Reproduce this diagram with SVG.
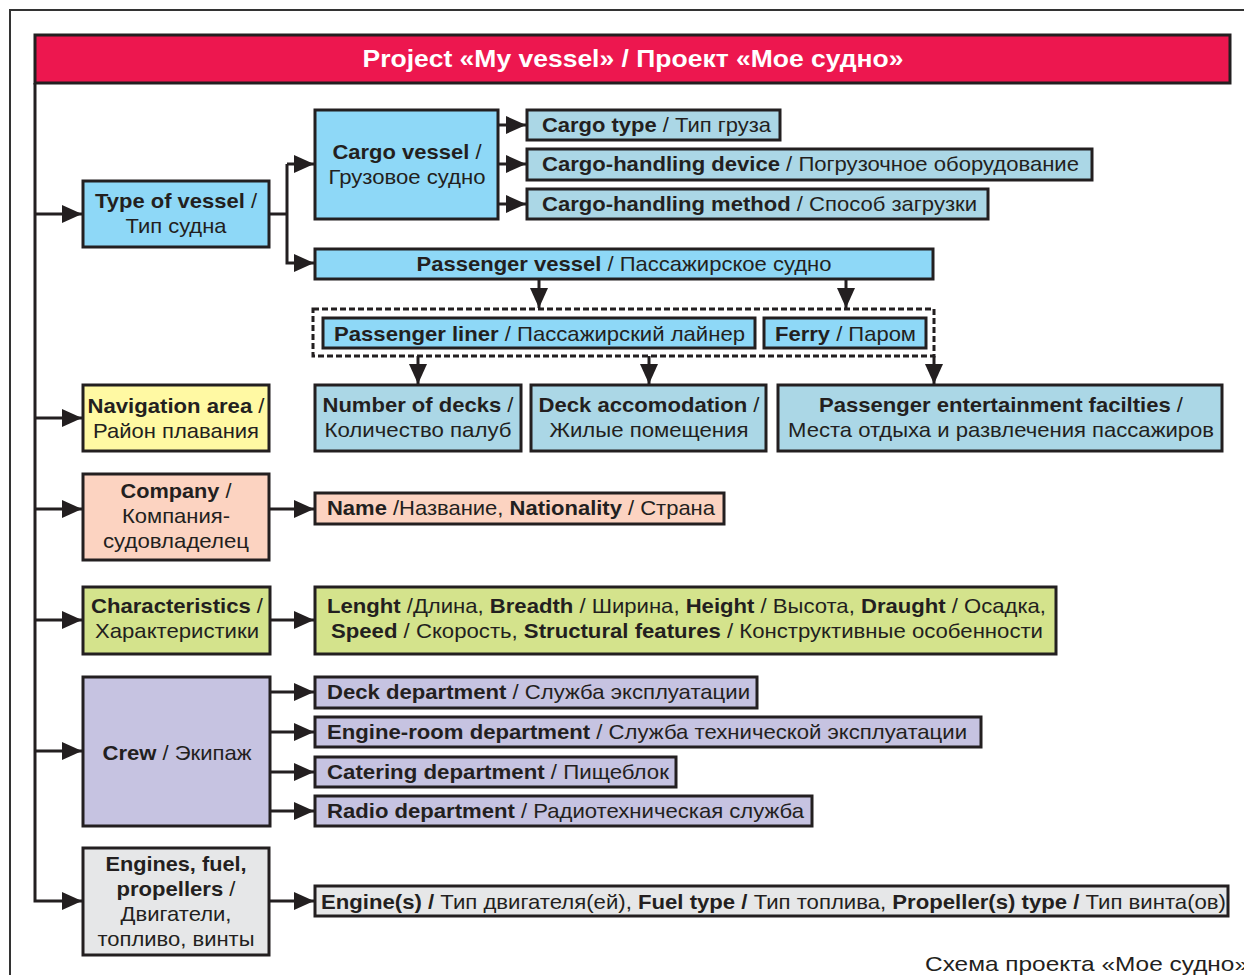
<svg xmlns="http://www.w3.org/2000/svg" width="1244" height="975" viewBox="0 0 1244 975">
<style>
text{font-family:"Liberation Sans",Arial,sans-serif;font-size:21px;fill:#231F20}
.b{font-weight:bold}
.c{text-anchor:middle}
.box{stroke:#231F20;stroke-width:3}
.blue{fill:#8ED8F7}
.lb{fill:#ABD7E6}
.yel{fill:#FFF9A3}
.peach{fill:#FCD3C1}
.grn{fill:#D4E38C}
.lav{fill:#C6C3E1}
.gry{fill:#E6E7E8}
.ln{fill:none;stroke:#231F20;stroke-width:3}
.ar{marker-end:url(#ah)}
</style>
<defs>
<marker id="ah" markerUnits="userSpaceOnUse" markerWidth="20" markerHeight="18" refX="20" refY="9" orient="auto">
<path d="M0,0 L20,9 L0,18 z" fill="#231F20"/>
</marker>
</defs>
<rect width="1244" height="975" fill="#fff"/>
<path d="M10,975 V10 H1244" fill="none" stroke="#333" stroke-width="2"/>

<g id="header">
<rect class="box" x="35" y="35" width="1195" height="48" fill="#ED174F"/>
<text class="b c" x="633" y="67" style="fill:#fff;font-size:24px" textLength="541" lengthAdjust="spacingAndGlyphs">Project «My vessel» / Проект «Мое судно»</text>
</g>

<g id="connectors">
<path class="ln ar" d="M35,83 V901 H82"/>
<path class="ln ar" d="M35,214 H82"/>
<path class="ln ar" d="M35,418 H82"/>
<path class="ln ar" d="M35,509 H82"/>
<path class="ln ar" d="M35,620 H82"/>
<path class="ln ar" d="M35,751 H82"/>
<path class="ln" d="M269,214 H287"/>
<path class="ln ar" d="M287,164 H314"/>
<path class="ln ar" d="M287,164 V263 H314"/>
<path class="ln ar" d="M498,125 H526"/>
<path class="ln ar" d="M498,164 H526"/>
<path class="ln ar" d="M498,204 H526"/>
<path class="ln ar" d="M539,279 V308"/>
<path class="ln ar" d="M846,279 V308"/>
<path class="ln ar" d="M418,356 V384"/>
<path class="ln ar" d="M649,356 V384"/>
<path class="ln ar" d="M934,356 V384"/>
<path class="ln ar" d="M269,509 H314"/>
<path class="ln ar" d="M270,620 H314"/>
<path class="ln ar" d="M270,692 H314"/>
<path class="ln ar" d="M270,732 H314"/>
<path class="ln ar" d="M270,772 H314"/>
<path class="ln ar" d="M270,811 H314"/>
<path class="ln ar" d="M269,901 H314"/>
</g>

<g id="type-of-vessel">
<rect class="box blue" x="83" y="181" width="186" height="66"/>
<text class="c" x="176" y="208" textLength="162" lengthAdjust="spacingAndGlyphs"><tspan class="b">Type of vessel</tspan> /</text>
<text class="c" x="176" y="233" textLength="101" lengthAdjust="spacingAndGlyphs">Тип судна</text>
</g>

<g id="cargo-vessel">
<rect class="box blue" x="315" y="110" width="183" height="109"/>
<text class="c" x="407" y="159" textLength="149" lengthAdjust="spacingAndGlyphs"><tspan class="b">Cargo vessel</tspan> /</text>
<text class="c" x="407" y="184" textLength="157" lengthAdjust="spacingAndGlyphs">Грузовое судно</text>
</g>

<g id="cargo-type">
<rect class="box lb" x="527" y="110" width="253" height="30"/>
<text x="542" y="132" textLength="229" lengthAdjust="spacingAndGlyphs"><tspan class="b">Cargo type</tspan> / Тип груза</text>
</g>

<g id="cargo-handling-device">
<rect class="box lb" x="527" y="149" width="565" height="31"/>
<text x="542" y="171" textLength="537" lengthAdjust="spacingAndGlyphs"><tspan class="b">Cargo-handling device</tspan> / Погрузочное оборудование</text>
</g>

<g id="cargo-handling-method">
<rect class="box lb" x="527" y="189" width="461" height="30"/>
<text x="542" y="211" textLength="435" lengthAdjust="spacingAndGlyphs"><tspan class="b">Cargo-handling method</tspan> / Способ загрузки</text>
</g>

<g id="passenger-vessel">
<rect class="box blue" x="315" y="249" width="618" height="30"/>
<text class="c" x="624" y="271" textLength="415" lengthAdjust="spacingAndGlyphs"><tspan class="b">Passenger vessel</tspan> / Пассажирское судно</text>
</g>

<g id="passenger-types">
<rect x="313" y="309" width="621" height="47" fill="none" stroke="#231F20" stroke-width="3" stroke-dasharray="6,3"/>
<g id="passenger-liner">
<rect class="box blue" x="323" y="318" width="432" height="30"/>
<text x="334" y="341" textLength="411" lengthAdjust="spacingAndGlyphs"><tspan class="b">Passenger liner</tspan> / Пассажирский лайнер</text>
</g>
<g id="ferry">
<rect class="box blue" x="764" y="318" width="162" height="30"/>
<text x="775" y="341" textLength="141" lengthAdjust="spacingAndGlyphs"><tspan class="b">Ferry</tspan> / Паром</text>
</g>
</g>

<g id="number-of-decks">
<rect class="box lb" x="315" y="385" width="206" height="66"/>
<text class="c" x="418" y="412" textLength="191" lengthAdjust="spacingAndGlyphs"><tspan class="b">Number of decks</tspan> /</text>
<text class="c" x="418" y="437" textLength="187" lengthAdjust="spacingAndGlyphs">Количество палуб</text>
</g>

<g id="deck-accomodation">
<rect class="box lb" x="531" y="385" width="235" height="66"/>
<text class="c" x="649" y="412" textLength="221" lengthAdjust="spacingAndGlyphs"><tspan class="b">Deck accomodation</tspan> /</text>
<text class="c" x="649" y="437" textLength="199" lengthAdjust="spacingAndGlyphs">Жилые помещения</text>
</g>

<g id="passenger-entertainment">
<rect class="box lb" x="778" y="385" width="444" height="66"/>
<text class="c" x="1001" y="412" textLength="364" lengthAdjust="spacingAndGlyphs"><tspan class="b">Passenger entertainment facilties</tspan> /</text>
<text class="c" x="1001" y="437" textLength="426" lengthAdjust="spacingAndGlyphs">Места отдыха и развлечения пассажиров</text>
</g>

<g id="navigation-area">
<rect class="box yel" x="83" y="385" width="186" height="66"/>
<text class="c" x="176" y="413" textLength="177" lengthAdjust="spacingAndGlyphs"><tspan class="b">Navigation area</tspan> /</text>
<text class="c" x="176" y="438" textLength="166" lengthAdjust="spacingAndGlyphs">Район плавания</text>
</g>

<g id="company">
<rect class="box peach" x="83" y="474" width="186" height="86"/>
<text class="c" x="176" y="498" textLength="111" lengthAdjust="spacingAndGlyphs"><tspan class="b">Company</tspan> /</text>
<text class="c" x="176" y="523" textLength="108" lengthAdjust="spacingAndGlyphs">Компания-</text>
<text class="c" x="176" y="548" textLength="146" lengthAdjust="spacingAndGlyphs">судовладелец</text>
</g>

<g id="company-details">
<rect class="box peach" x="315" y="493" width="409" height="31"/>
<text x="327" y="515" textLength="388" lengthAdjust="spacingAndGlyphs"><tspan class="b">Name</tspan> /Название, <tspan class="b">Nationality</tspan> / Страна</text>
</g>

<g id="characteristics">
<rect class="box grn" x="83" y="587" width="187" height="67"/>
<text class="c" x="177" y="613" textLength="172" lengthAdjust="spacingAndGlyphs"><tspan class="b">Characteristics</tspan> /</text>
<text class="c" x="177" y="638" textLength="164" lengthAdjust="spacingAndGlyphs">Характеристики</text>
</g>

<g id="characteristics-details">
<rect class="box grn" x="315" y="587" width="741" height="67"/>
<text x="327" y="613" textLength="719" lengthAdjust="spacingAndGlyphs"><tspan class="b">Lenght</tspan> /Длина, <tspan class="b">Breadth</tspan> / Ширина, <tspan class="b">Height</tspan> / Высота, <tspan class="b">Draught</tspan> / Осадка,</text>
<text x="331" y="638" textLength="712" lengthAdjust="spacingAndGlyphs"><tspan class="b">Speed</tspan> / Скорость, <tspan class="b">Structural features</tspan> / Конструктивные особенности</text>
</g>

<g id="crew">
<rect class="box lav" x="83" y="677" width="187" height="149"/>
<text class="c" x="177" y="760" textLength="149" lengthAdjust="spacingAndGlyphs"><tspan class="b">Crew</tspan> / Экипаж</text>
</g>

<g id="deck-department">
<rect class="box lav" x="315" y="677" width="442" height="31"/>
<text x="327" y="699" textLength="423" lengthAdjust="spacingAndGlyphs"><tspan class="b">Deck department</tspan> / Служба эксплуатации</text>
</g>

<g id="engine-room-department">
<rect class="box lav" x="315" y="717" width="666" height="30"/>
<text x="327" y="739" textLength="640" lengthAdjust="spacingAndGlyphs"><tspan class="b">Engine-room department</tspan> / Служба технической эксплуатации</text>
</g>

<g id="catering-department">
<rect class="box lav" x="315" y="757" width="361" height="30"/>
<text x="327" y="779" textLength="342" lengthAdjust="spacingAndGlyphs"><tspan class="b">Catering department</tspan> / Пищеблок</text>
</g>

<g id="radio-department">
<rect class="box lav" x="315" y="796" width="497" height="30"/>
<text x="327" y="818" textLength="477" lengthAdjust="spacingAndGlyphs"><tspan class="b">Radio department</tspan> / Радиотехническая служба</text>
</g>

<g id="engines">
<rect class="box gry" x="83" y="848" width="186" height="107"/>
<text class="c b" x="176" y="871" textLength="141" lengthAdjust="spacingAndGlyphs">Engines, fuel,</text>
<text class="c" x="176" y="896" textLength="119" lengthAdjust="spacingAndGlyphs"><tspan class="b">propellers</tspan> /</text>
<text class="c" x="176" y="921" textLength="111" lengthAdjust="spacingAndGlyphs">Двигатели,</text>
<text class="c" x="176" y="946" textLength="157" lengthAdjust="spacingAndGlyphs">топливо, винты</text>
</g>

<g id="engines-details">
<rect class="box gry" x="315" y="886" width="913" height="30"/>
<text x="321" y="909" textLength="905" lengthAdjust="spacingAndGlyphs"><tspan class="b">Engine(s) /</tspan> Тип двигателя(ей), <tspan class="b">Fuel type /</tspan> Тип топлива, <tspan class="b">Propeller(s) type /</tspan> Тип винта(ов)</text>
</g>

<text id="caption" x="925" y="971" textLength="323" lengthAdjust="spacingAndGlyphs">Схема проекта «Мое судно»</text>
</svg>
